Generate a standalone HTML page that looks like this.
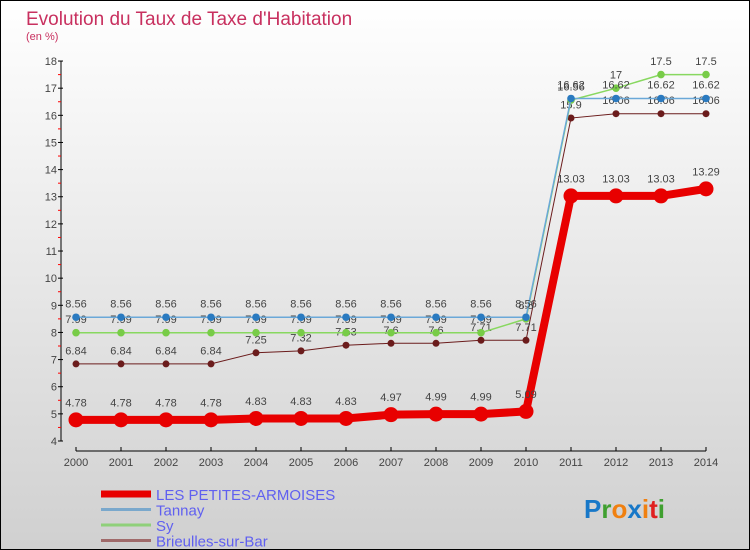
<!DOCTYPE html>
<html><head><meta charset="utf-8"><style>
body{margin:0}
#c{position:relative;width:748px;height:548px;border:1px solid #000;background:linear-gradient(#fff,#d0d0d0);overflow:hidden;font-family:"Liberation Sans",sans-serif}
</style></head><body>
<div id="c">
<svg width="748" height="548" id="svg"></svg>
</div>
<script>
const years=[2000,2001,2002,2003,2004,2005,2006,2007,2008,2009,2010,2011,2012,2013,2014];
const petites=[4.78,4.78,4.78,4.78,4.83,4.83,4.83,4.97,4.99,4.99,5.09,13.03,13.03,13.03,13.29];
const tannay=[8.56,8.56,8.56,8.56,8.56,8.56,8.56,8.56,8.56,8.56,8.56,16.62,16.62,16.62,16.62];
const sy=[7.99,7.99,7.99,7.99,7.99,7.99,7.99,7.99,7.99,7.99,8.5,16.56,17,17.5,17.5];
const brieulles=[6.84,6.84,6.84,6.84,7.25,7.32,7.53,7.6,7.6,7.71,7.71,15.9,16.06,16.06,16.06];
const yTicks=[4,5,6,7,8,9,10,11,12,13,14,15,16,17,18];
const NS='http://www.w3.org/2000/svg';
const svg=document.getElementById('svg');
const X=i=>75+45*i;
const Y=v=>440-(v-4)*27.14;
function el(t,a,p){const e=document.createElementNS(NS,t);for(const k in a)e.setAttribute(k,a[k]);(p||svg).appendChild(e);return e;}
function txt(x,y,s,a){const e=el('text',Object.assign({x:x,y:y},a));e.textContent=s;return e;}
let t=txt(25,24,"Evolution du Taux de Taxe d'Habitation",{fill:'#c8305f','font-size':19});

t=txt(25,39,"(en %)",{fill:'#c8305f','font-size':11});

let ya=el('line',{x1:60,y1:Y(18),x2:60,y2:Y(4),stroke:'#000'});

yTicks.forEach(v=>{
  el('line',{x1:57,x2:62,y1:Y(v),y2:Y(v),stroke:'#000'});
  if(v<18)el('line',{x1:57,x2:60,y1:Y(v+0.5),y2:Y(v+0.5),stroke:'#f00'});
  const l=txt(56,Y(v)+4,v,{'text-anchor':'end','font-size':11,fill:'#444'});
  
});
let xa=el('line',{x1:X(0),y1:450,x2:X(14),y2:450,stroke:'#000'});

years.forEach((y,i)=>{
  el('line',{x1:X(i),x2:X(i),y1:446,y2:450,stroke:'#000'});
  const l=txt(X(i),465,y,{'text-anchor':'middle','font-size':11,fill:'#444'});
  
});
function series(d,color,dot,w,r,name){
  const p=el('polyline',{points:d.map((v,i)=>X(i)+','+Y(v)).join(' '),fill:'none',stroke:color,'stroke-width':w});
  
  d.forEach((v,i)=>{
    const c=el('circle',{cx:X(i),cy:Y(v),r:r,fill:dot});
    
    const l=txt(X(i),Y(v)-(r+6),String(v),{'text-anchor':'middle','font-size':11,fill:'#444'});
    
  });
}
series(brieulles,'#6b1c1c','#6b1c1c',1,3.5,'brieulles');
series(sy,'#88d860','#78cc48',1.5,3.8,'sy');
series(tannay,'#6aa8d8','#2a7ac0',1.5,3.8,'tannay');
series(petites,'#e80000','#e80000',8,7.5,'petites-armoises');
const leg=[['LES PETITES-ARMOISES','#e80000',7],['Tannay','#7aa8cc',3],['Sy','#8fd07a',3],['Brieulles-sur-Bar','#a06a6a',3]];
leg.forEach((l,i)=>{
  const y=493+15.5*i;
  const ln=el('line',{x1:100,x2:150,y1:y,y2:y,stroke:l[1],'stroke-width':l[2]});
  
  const tx=txt(155,y+6,l[0],{'font-size':15,fill:'#6060f0'});
  
});
const g=txt(583,517,'',{'font-size':26,'font-weight':'bold'});

[['P','#1878c8'],['r','#40a030'],['o','#f08010'],['x','#1878c8'],['i','#f08010'],['t','#e02020'],['i','#40a030']].forEach(p=>{const s=el('tspan',{fill:p[1]},g);s.textContent=p[0];});
</script>
</body></html>
